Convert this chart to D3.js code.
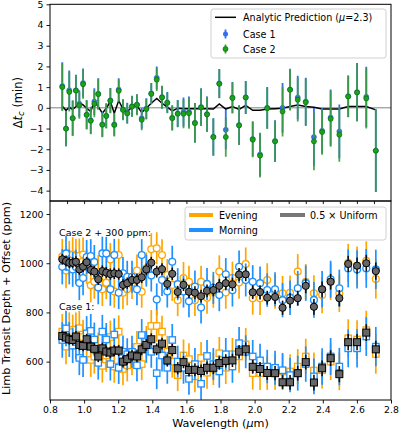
<!DOCTYPE html>
<html>
<head>
<meta charset="utf-8">
<script src="https://cdn.jsdelivr.net/npm/d3@7"></script>
<style>
body{margin:0;background:#fff;}
svg{font-family:"DejaVu Sans",sans-serif;}
</style>
</head>
<body>
<script>
//wavelength of each spectral bin (micron)
var wavelength = [0.872,0.894,0.913,0.933,0.952,0.972,0.994,1.015,1.039,1.060,1.083,1.107,1.130,1.154,1.177,1.203,1.228,1.253,1.281,1.310,1.338,1.365,1.394,1.426,1.457,1.488,1.517,1.549,1.583,1.615,1.650,1.686,1.721,1.758,1.793,1.831,1.870,1.909,1.948,1.989,2.032,2.074,2.120,2.164,2.208,2.253,2.300,2.348,2.396,2.446,2.497,2.549,2.601,2.655,2.711];

//top panel: mid-transit time offset (min)
var dtCase1 = [1.05,-1.00,0.85,-0.50,0.85,0.20,1.20,-0.33,-0.60,0.30,0.68,-0.80,-0.38,0.36,-0.80,0.88,-0.08,-0.25,0.08,0.16,-0.50,-0.04,0.70,1.45,0.52,0.26,-0.48,-0.27,-0.20,-0.20,-0.72,0.04,-0.30,-1.40,1.18,-1.06,0.50,-0.83,0.50,-1.50,-2.25,0.00,-1.60,0.00,0.89,0.50,0.30,-1.41,-1.11,-0.47,-1.14,0.56,0.76,0.53,-2.07];
var dtCase2 = [1.00,-1.01,0.77,-0.50,0.83,0.12,1.14,-0.34,-0.63,0.19,0.66,-0.82,-0.40,0.34,-0.83,0.82,-0.10,-0.27,0.06,0.14,-0.58,-0.06,0.67,1.36,0.50,0.24,-0.50,-0.29,-0.29,-0.26,-0.74,0.02,-0.32,-1.41,1.16,-1.41,0.47,-0.85,0.50,-1.54,-2.31,-0.02,-1.62,-0.18,0.87,0.39,0.27,-1.62,-1.17,-0.53,-1.30,0.55,0.74,0.45,-2.07];
var dtErr = [1.15,0.85,0.95,0.85,0.75,0.65,0.70,0.70,0.65,0.65,0.75,0.60,0.60,0.60,0.55,0.55,0.50,0.50,0.50,0.50,0.50,0.50,0.50,0.55,0.55,0.50,0.60,0.65,0.70,0.75,0.95,0.90,0.85,0.90,0.70,0.95,0.75,0.95,0.80,0.85,1.05,1.00,1.00,1.20,1.00,1.05,1.15,1.40,1.10,1.35,1.30,1.00,1.40,1.45,2.00];
var dtAnalytic = [0.08,-0.12,0.03,-0.08,0.06,0.25,0.14,-0.02,-0.18,0.33,0.06,-0.26,-0.02,0.30,-0.26,0.35,-0.06,-0.18,0.03,0.10,-0.22,-0.02,0.22,0.45,0.22,0.03,-0.15,-0.02,-0.05,-0.05,-0.05,-0.05,-0.04,-0.06,0.19,-0.06,0.06,-0.08,0.12,-0.12,-0.12,-0.06,-0.04,-0.02,0.06,0.14,0.06,0.03,-0.06,-0.06,-0.06,0.06,0.06,0.06,-0.10];

//bottom panel: limb transit depths (ppm), case 2 already offset by +300
var eveCase2 = [1027,970,1020,1035,1030,1030,1035,985,910,925,965,894,921,1015,885,1033,880,894,920,970,884,979,1057,1061,1033,952,912,850,940,925,850,925,860,884,966,881,941,922,997,858,858,932,884,878,880,966,925,878,871,925,878,1002,990,1010,936];
var morCase2 = [986,1040,985,975,985,920,940,1025,1029,1005,901,1040,1040,894,1033,880,959,945,945,894,1033,970,950,853,932,885,1006,915,885,845,905,820,916,900,871,955,890,986,932,925,919,891,894,850,860,898,919,851,894,935,898,979,975,979,975];
var uniCase2 = [1016,1009,1002,1002,1006,975,986,1004,973,966,935,968,962,956,959,956,912,919,932,932,943,975,1002,966,976,916,957,883,912,884,880,866,888,891,908,919,914,954,955,882,883,860,863,819,848,858,908,823,894,925,858,997,990,1000,968];
var eveCase1 = [722,661,729,720,730,736,700,670,607,620,650,583,625,700,580,722,570,585,610,660,590,680,745,745,722,640,600,545,625,610,540,615,555,570,634,575,630,621,670,553,553,553,555,560,560,580,621,564,565,600,560,695,690,728,631];
var morCase1 = [688,735,690,665,680,615,607,715,725,690,595,722,690,590,710,575,640,630,640,585,708,660,640,553,625,575,688,600,575,530,590,510,623,590,560,630,580,675,640,621,605,580,575,565,545,553,590,540,580,621,580,654,654,702,661];
var uniCase1 = [704,698,691,688,702,668,664,691,661,652,621,654,641,637,645,645,600,610,625,621,650,668,691,650,673,605,647,573,598,566,567,562,575,575,594,603,605,641,650,579,570,554,553,516,516,553,598,515,573,614,549,679,679,718,650];
var limbErr = [72,72,71,71,70,70,70,70,69,69,68,68,67,67,66,66,66,65,65,65,65,65,65,65,65,65,65,65,65,65,65,65,65,65,66,66,66,66,67,67,68,68,69,70,70,71,72,73,74,75,76,77,78,79,80];
var uniErr = [22,22,22,22,22,22,22,22,22,23,23,23,23,23,23,23,23,23,24,24,24,24,24,24,24,25,25,25,25,26,26,26,26,26,27,27,27,27,28,28,28,28,29,29,30,30,30,32,32,32,33,33,33,34,35];

//tick values
var topYTicks = [-4,-3,-2,-1,0,1,2,3,4,5];
var topXTicks = [0.9,1.0,1.1,1.2,1.3,1.4,1.5,1.6,1.7,1.8,1.9,2.0,2.1,2.2,2.3,2.4,2.5,2.6,2.7];
var botYTicks = [600,800,1000,1200];
var botXTicks = [0.8,1.0,1.2,1.4,1.6,1.8,2.0,2.2,2.4,2.6,2.8];

var width = 400, height = 432;
var left = 50, right = 391,
    topY0 = 4.3, topY1 = 201,
    botY0 = 201, botY1 = 400;

var svg = d3.select("body")
    .append("svg")
    .attr("width", width)
    .attr("height", height);

var x = d3.scaleLinear().domain([0.8, 2.8]).range([left, right]);
var yTop = d3.scaleLinear().domain([-4.5, 5]).range([topY1, topY0]);
var yBot = d3.scaleLinear().domain([444, 1253]).range([botY1, botY0]);

//clip paths for the two panels
var defs = svg.append("defs");
defs.append("clipPath").attr("id", "clipTop").append("rect")
    .attr("x", left).attr("y", topY0).attr("width", right - left).attr("height", topY1 - topY0);
defs.append("clipPath").attr("id", "clipBot").append("rect")
    .attr("x", left).attr("y", botY0).attr("width", right - left).attr("height", botY1 - botY0);

var fmtMinus = function(d){ return d < 0 ? "\u2212" + Math.abs(d) : String(d); };

//draw vertical error bars
function errorbars(g, yScale, vals, errs, color, lw, opacity){
    g.append("g").selectAll("line")
        .data(vals)
        .enter()
        .append("line")
        .attr("x1", function(d, i){ return x(wavelength[i]); })
        .attr("x2", function(d, i){ return x(wavelength[i]); })
        .attr("y1", function(d, i){ return yScale(d - errs[i]); })
        .attr("y2", function(d, i){ return yScale(d + errs[i]); })
        .attr("stroke", color)
        .attr("stroke-width", lw)
        .attr("stroke-opacity", opacity || 1);
}

function circles(g, yScale, vals, r, fill, stroke, sw){
    g.append("g").selectAll("circle")
        .data(vals)
        .enter()
        .append("circle")
        .attr("cx", function(d, i){ return x(wavelength[i]); })
        .attr("cy", function(d){ return yScale(d); })
        .attr("r", r)
        .attr("fill", fill)
        .attr("stroke", stroke)
        .attr("stroke-width", sw);
}

function squares(g, yScale, vals, s, fill, stroke, sw){
    g.append("g").selectAll("rect")
        .data(vals)
        .enter()
        .append("rect")
        .attr("x", function(d, i){ return x(wavelength[i]) - s / 2; })
        .attr("y", function(d){ return yScale(d) - s / 2; })
        .attr("width", s)
        .attr("height", s)
        .attr("fill", fill)
        .attr("stroke", stroke)
        .attr("stroke-width", sw);
}

// ---------- top panel ----------
var topPanel = svg.append("g").attr("clip-path", "url(#clipTop)");

topPanel.append("line")
    .attr("x1", left).attr("x2", right)
    .attr("y1", yTop(0)).attr("y2", yTop(0))
    .attr("stroke", "#808080").attr("stroke-width", 1);

var analyticLine = d3.line()
    .x(function(d, i){ return x(wavelength[i]); })
    .y(function(d){ return yTop(d); });

topPanel.append("path")
    .datum(dtAnalytic)
    .attr("d", analyticLine)
    .attr("fill", "none")
    .attr("stroke", "#000")
    .attr("stroke-width", 1.5);

errorbars(topPanel, yTop, dtCase1, dtErr, "#2f6ff0", 1.8);
circles(topPanel, yTop, dtCase1, 2.5, "#2f6ff0", "#2a62d8", 0.6);
errorbars(topPanel, yTop, dtCase2, dtErr, "#3c9c3c", 1.8, 0.9);
circles(topPanel, yTop, dtCase2, 2.5, "#18a518", "#0b6f0b", 0.7);

//top axes
svg.append("g")
    .attr("transform", "translate(" + left + ",0)")
    .call(d3.axisLeft(yTop).tickValues(topYTicks).tickFormat(fmtMinus).tickSize(3.5).tickPadding(3));

svg.append("g")
    .attr("transform", "translate(0," + topY1 + ")")
    .call(d3.axisBottom(x).tickValues(topXTicks).tickFormat("").tickSize(3));

svg.append("rect")
    .attr("x", left).attr("y", topY0)
    .attr("width", right - left).attr("height", topY1 - topY0)
    .attr("fill", "none").attr("stroke", "#000").attr("stroke-width", 1);

// ---------- bottom panel ----------
var botPanel = svg.append("g").attr("clip-path", "url(#clipBot)");

var eveColor = "#ffa500", morColor = "#1e90ff";

//case 2 (circles)
errorbars(botPanel, yBot, eveCase2, limbErr, eveColor, 1.7);
circles(botPanel, yBot, eveCase2, 3.4, "#fff", eveColor, 1.3);
errorbars(botPanel, yBot, morCase2, limbErr, morColor, 1.7);
circles(botPanel, yBot, morCase2, 3.4, "#fff", morColor, 1.3);
errorbars(botPanel, yBot, uniCase2, uniErr, "#111", 1.6);
circles(botPanel, yBot, uniCase2, 3.6, "#666", "#000", 1);

//case 1 (squares)
errorbars(botPanel, yBot, eveCase1, limbErr, eveColor, 1.7);
squares(botPanel, yBot, eveCase1, 6.4, "#fff", eveColor, 1.3);
errorbars(botPanel, yBot, morCase1, limbErr, morColor, 1.7);
squares(botPanel, yBot, morCase1, 6.4, "#fff", morColor, 1.3);
errorbars(botPanel, yBot, uniCase1, uniErr, "#111", 1.6);
squares(botPanel, yBot, uniCase1, 7, "#666", "#000", 1);

svg.append("g")
    .attr("transform", "translate(" + left + ",0)")
    .call(d3.axisLeft(yBot).tickValues(botYTicks).tickFormat(d3.format("d")).tickSize(3.5).tickPadding(3));

svg.append("g")
    .attr("transform", "translate(0," + botY1 + ")")
    .call(d3.axisBottom(x).tickValues(botXTicks).tickFormat(d3.format(".1f")).tickSize(3.5).tickPadding(3));

svg.append("rect")
    .attr("x", left).attr("y", botY0)
    .attr("width", right - left).attr("height", botY1 - botY0)
    .attr("fill", "none").attr("stroke", "#000").attr("stroke-width", 1);

//axis styling
svg.selectAll(".domain").remove();
svg.selectAll(".tick line").attr("stroke", "#000").attr("stroke-width", 0.9);
svg.selectAll(".tick text").attr("font-size", "9.3px").attr("fill", "#000")
    .attr("font-family", "DejaVu Sans");

//case annotations
svg.append("text").attr("x", 59).attr("y", 235.5).attr("font-size", "9.5px").text("Case 2 + 300 ppm:");
svg.append("text").attr("x", 59).attr("y", 310).attr("font-size", "9.5px").text("Case 1:");

//axis titles
svg.append("text")
    .attr("x", (left + right) / 2).attr("y", 427)
    .attr("text-anchor", "middle").attr("font-size", "11.2px")
    .html("Wavelength (<tspan font-style='italic'>\u03bc</tspan>m)");

var ylab = svg.append("text")
    .attr("transform", "translate(21.5," + ((topY0 + topY1) / 2) + ") rotate(-90)")
    .attr("text-anchor", "middle").attr("font-size", "11.5px");
ylab.append("tspan").text("\u0394");
ylab.append("tspan").attr("font-style", "italic").text("t");
ylab.append("tspan").attr("font-style", "italic").attr("font-size", "8.5px").attr("dy", 2.5).text("c");
ylab.append("tspan").attr("dy", -2.5).text(" (min)");

svg.append("text")
    .attr("transform", "translate(9.5," + ((botY0 + botY1) / 2 - 2) + ") rotate(-90)")
    .attr("text-anchor", "middle").attr("font-size", "11.2px")
    .text("Limb Transit Depth + Offset (ppm)");

// ---------- legends ----------
var leg1 = svg.append("g");
leg1.append("rect")
    .attr("x", 211).attr("y", 9).attr("width", 175).attr("height", 49).attr("rx", 2.5)
    .attr("fill", "#fff").attr("fill-opacity", 0.85).attr("stroke", "#d0d0d0");
leg1.append("line").attr("x1", 215).attr("x2", 236).attr("y1", 17.3).attr("y2", 17.3)
    .attr("stroke", "#000").attr("stroke-width", 1.5);
leg1.append("text").attr("x", 243).attr("y", 20.8).attr("font-size", "9.6px")
    .html("Analytic Prediction (<tspan font-style='italic'>\u03bc</tspan>=2.3)");
leg1.append("line").attr("x1", 225.5).attr("x2", 225.5).attr("y1", 29.5).attr("y2", 38.5)
    .attr("stroke", "#2f6ff0").attr("stroke-width", 1.8);
leg1.append("circle").attr("cx", 225.5).attr("cy", 34).attr("r", 2.5).attr("fill", "#2f6ff0");
leg1.append("text").attr("x", 243).attr("y", 37.6).attr("font-size", "9.6px").text("Case 1");
leg1.append("line").attr("x1", 225.5).attr("x2", 225.5).attr("y1", 44.5).attr("y2", 53.5)
    .attr("stroke", "#3c9c3c").attr("stroke-width", 1.8);
leg1.append("circle").attr("cx", 225.5).attr("cy", 49).attr("r", 2.5)
    .attr("fill", "#18a518").attr("stroke", "#0b6f0b").attr("stroke-width", 0.7);
leg1.append("text").attr("x", 243).attr("y", 52.6).attr("font-size", "9.6px").text("Case 2");

var leg2 = svg.append("g");
leg2.append("rect")
    .attr("x", 185).attr("y", 207).attr("width", 201).attr("height", 33).attr("rx", 2.5)
    .attr("fill", "#fff").attr("fill-opacity", 0.85).attr("stroke", "#d0d0d0");
leg2.append("line").attr("x1", 189).attr("x2", 213).attr("y1", 215).attr("y2", 215)
    .attr("stroke", eveColor).attr("stroke-width", 4);
leg2.append("text").attr("x", 219).attr("y", 218.5).attr("font-size", "9.6px").text("Evening");
leg2.append("line").attr("x1", 189).attr("x2", 213).attr("y1", 230).attr("y2", 230)
    .attr("stroke", morColor).attr("stroke-width", 4);
leg2.append("text").attr("x", 219).attr("y", 233.5).attr("font-size", "9.6px").text("Morning");
leg2.append("line").attr("x1", 280).attr("x2", 305).attr("y1", 215).attr("y2", 215)
    .attr("stroke", "#777").attr("stroke-width", 4);
leg2.append("text").attr("x", 310).attr("y", 218.5).attr("font-size", "9.6px").text("0.5 \u00d7 Uniform");
</script>
</body>
</html>
